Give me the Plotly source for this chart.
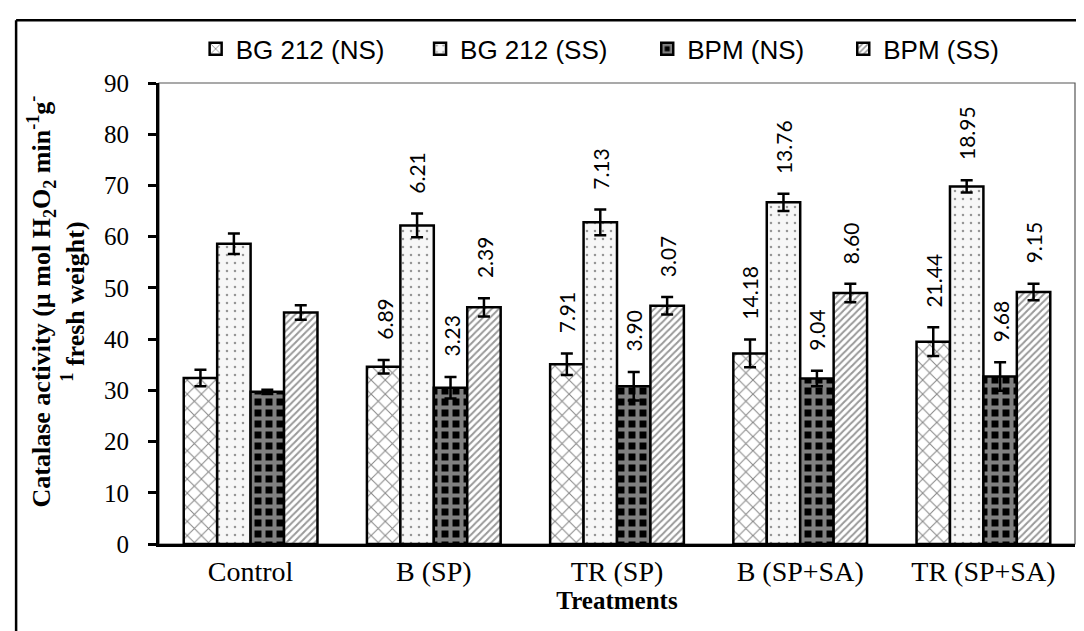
import plotly.graph_objects as go

categories = ["Control", "B (SP)", "TR (SP)", "B (SP+SA)", "TR (SP+SA)"]
series_names = ["BG 212 (NS)", "BG 212 (SS)", "BPM (NS)", "BPM (SS)"]

bg_ns = [32.4, 34.6, 35.1, 37.2, 39.5]
bg_ss = [58.6, 62.2, 62.8, 66.7, 69.8]
bpm_ns = [29.7, 30.5, 30.8, 32.3, 32.7]
bpm_ss = [45.2, 46.2, 46.5, 49.0, 49.2]

bg_ns_err = [1.6, 1.3, 2.1, 2.7, 2.8]
bg_ss_err = [2.0, 2.3, 2.5, 1.7, 1.2]
bpm_ns_err = [0.4, 2.1, 2.8, 1.5, 2.8]
bpm_ss_err = [1.4, 1.8, 1.7, 1.8, 1.6]

bg_ns_lbl = ["", "6.89", "7.91", "14.18", "21.44"]
bg_ss_lbl = ["", "6.21", "7.13", "13.76", "18.95"]
bpm_ns_lbl = ["", "3.23", "3.90", "9.04", "9.68"]
bpm_ss_lbl = ["", "2.39", "3.07", "8.60", "9.15"]

values = [bg_ns, bg_ss, bpm_ns, bpm_ss]
errors = [bg_ns_err, bg_ss_err, bpm_ns_err, bpm_ss_err]
labels = [bg_ns_lbl, bg_ss_lbl, bpm_ns_lbl, bpm_ss_lbl]

patterns = [
    dict(shape="x", fgcolor="#111", bgcolor="white", size=10, solidity=0.2),
    dict(shape=".", fgcolor="#333", bgcolor="#f7f7f7", size=8, solidity=0.08),
    dict(shape="+", fgcolor="white", bgcolor="black", size=11, solidity=0.6),
    dict(shape="/", fgcolor="#333", bgcolor="white", size=5, solidity=0.4),
]

BARGAP = 0.27
xs = list(range(len(categories)))
legend_ids = ["legend", "legend2", "legend3", "legend4"]
legend_x = [0.040, 0.285, 0.533, 0.747]

SERIF = "Liberation Serif, Times New Roman, serif"

fig = go.Figure()
for k in range(4):
    fig.add_trace(go.Bar(
        x=xs, y=values[k], name=series_names[k], legend=legend_ids[k],
        marker=dict(color="white", pattern=patterns[k],
                    line=dict(color="black", width=2.5)),
        error_y=dict(type="data", array=errors[k], color="black",
                     thickness=2.5, width=6),
    ))

bw = (1 - BARGAP) / 4
annotations = []
for k in range(4):
    for i in xs:
        if labels[k][i]:
            annotations.append(dict(
                x=i + (k - 1.5) * bw, y=values[k][i] + errors[k][i],
                xref="x", yref="y", text=labels[k][i], showarrow=False,
                textangle=-90, xanchor="center", yanchor="bottom", yshift=18,
                font=dict(family="Lato, Open Sans, sans-serif", size=21, color="black"),
            ))

annotations.append(dict(
    xref="paper", yref="paper", x=-0.112, y=0.527, xanchor="center", yanchor="middle",
    textangle=-90, showarrow=False,
    text="<b>Catalase activity (µ mol H<sub>2</sub>O<sub>2</sub> min<sup>-1</sup>g<sup>-</sup></b><br><b><sup>1</sup> fresh weight)</b>",
    font=dict(family=SERIF, size=26, color="black"),
))

leg_common = dict(orientation="h", xanchor="left", y=1.074, yanchor="middle",
                  font=dict(family="Liberation Sans, Arial, sans-serif", size=26, color="black"),
                  bgcolor="rgba(0,0,0,0)")
layout_legends = {}
for lid, lx in zip(legend_ids, legend_x):
    layout_legends[lid] = dict(leg_common, x=lx)

fig.update_layout(
    width=1084, height=631,
    margin=dict(l=151, r=17, t=75, b=95),
    paper_bgcolor="white", plot_bgcolor="white",
    barmode="group", bargap=BARGAP, bargroupgap=0,
    showlegend=True,
    annotations=annotations,
    shapes=[
        dict(type="rect", xref="paper", yref="paper", x0=0, y0=0, x1=1, y1=1,
             line=dict(color="#555", width=1.2), layer="below"),
        dict(type="line", xref="paper", yref="paper", x0=-0.156, y0=1.136, x1=1.03, y1=1.136,
             line=dict(color="black", width=2.5)),
        dict(type="line", xref="paper", yref="paper", x0=-0.156, y0=1.136, x1=-0.156, y1=-0.25,
             line=dict(color="black", width=2.5)),
    ],
    **layout_legends,
)
fig.update_xaxes(
    range=[-0.5, 4.5], tickmode="array", tickvals=xs, ticktext=categories,
    showline=True, linecolor="black", linewidth=3, ticks="", showgrid=False, zeroline=False,
    tickfont=dict(family=SERIF, size=28, color="black"),
    title=dict(text="<b>Treatments</b>", standoff=4,
               font=dict(family=SERIF, size=25, color="black")),
)
fig.update_yaxes(
    range=[0, 90], dtick=10, showline=True, linecolor="black", linewidth=3,
    ticks="outside", ticklen=8, tickwidth=3, tickcolor="black", showgrid=False, zeroline=False,
    ticklabelstandoff=14,
    tickfont=dict(family=SERIF, size=25, color="black"),
)

fig.write_html("out.html")
